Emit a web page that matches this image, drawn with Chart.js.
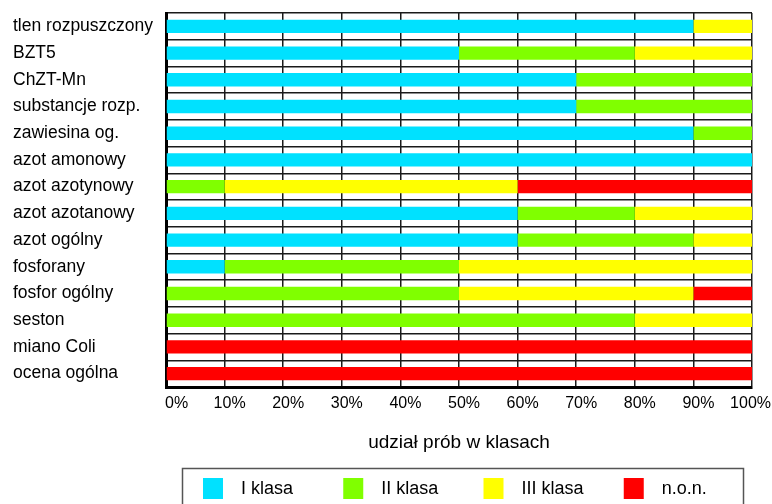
<!DOCTYPE html>
<html>
<head>
<meta charset="utf-8">
<script src="https://cdn.jsdelivr.net/npm/chart.js@4/dist/chart.umd.min.js"></script>
<style>
  html, body { margin: 0; padding: 0; background: #fff; }
  #wrap { width: 772px; height: 504px; }
</style>
</head>
<body>
<div id="wrap"><canvas id="c" width="772" height="504"></canvas></div>
<script>
// Categories (water quality indicators), top to bottom
const categories = [
  'tlen rozpuszczony', 'BZT5', 'ChZT-Mn', 'substancje rozp.', 'zawiesina og.',
  'azot amonowy', 'azot azotynowy', 'azot azotanowy', 'azot ogólny', 'fosforany',
  'fosfor ogólny', 'seston', 'miano Coli', 'ocena ogólna'
];

// Share of samples in each class (%)
const klasaI   = [90, 50, 70, 70, 90, 100,  0, 60, 60, 10,  0,  0,   0,   0];
const klasaII  = [ 0, 30, 30, 30, 10,   0, 10, 20, 30, 40, 50, 80,   0,   0];
const klasaIII = [10, 20,  0,  0,  0,   0, 50, 20, 10, 50, 40, 20,   0,   0];
const klasaNon = [ 0,  0,  0,  0,  0,   0, 40,  0,  0,  0, 10,  0, 100, 100];

const seriesNames  = ['I klasa', 'II klasa', 'III klasa', 'n.o.n.'];
const seriesColors = ['#00E1FF', '#80FF00', '#FFFF00', '#FF0000'];

const xTickLabels = ['0%', '10%', '20%', '30%', '40%', '50%', '60%', '70%', '80%', '90%', '100%'];
const xAxisTitle = 'udział prób w klasach';

const FONT = '"Liberation Sans", Arial, Helvetica, sans-serif';

// Percentage tick labels under the plot, nudged right and kept inside the canvas
const xLabelsPlugin = {
  id: 'xLabels',
  afterDraw(chart) {
    const sc = chart.scales.x;
    const ctx = chart.ctx;
    ctx.save();
    ctx.font = '16px ' + FONT;
    ctx.fillStyle = '#000';
    ctx.textBaseline = 'middle';
    ctx.textAlign = 'left';
    sc.ticks.forEach((t, i) => {
      const w = ctx.measureText(t.label).width;
      let x = sc.getPixelForTick(i) + 5 - w / 2;
      x = Math.max(x, chart.chartArea.left - 1);
      x = Math.min(x, chart.width - 1 - w);
      ctx.fillText(t.label, x, chart.chartArea.bottom + 17);
    });
    ctx.restore();
  }
};

// Framed legend with four evenly spaced entries below the axis title
const framedLegendPlugin = {
  id: 'framedLegend',
  afterDraw(chart) {
    const ctx = chart.ctx;
    const ca = chart.chartArea;
    const boxL = ca.left + 16, boxR = ca.right - 9, boxT = ca.bottom + 81;
    const pitch = (boxR - boxL) / chart.data.datasets.length;
    ctx.save();
    ctx.strokeStyle = '#555';
    ctx.lineWidth = 1.5;
    ctx.strokeRect(boxL + 0.5, boxT + 0.5, boxR - boxL, 60);
    ctx.font = '18px ' + FONT;
    ctx.textBaseline = 'middle';
    ctx.textAlign = 'left';
    chart.data.datasets.forEach((ds, i) => {
      const sx = boxL + 21 + i * pitch;
      ctx.fillStyle = ds.backgroundColor;
      ctx.fillRect(sx, boxT + 10, 20, 21);
      ctx.fillStyle = '#000';
      ctx.fillText(ds.label, sx + 38, boxT + 21);
    });
    ctx.restore();
  }
};

const seriesData = [klasaI, klasaII, klasaIII, klasaNon];

new Chart(document.getElementById('c'), {
  type: 'bar',
  data: {
    labels: categories,
    datasets: seriesData.map((d, i) => ({
      label: seriesNames[i],
      data: d,
      backgroundColor: seriesColors[i],
      borderWidth: 0,
      barPercentage: 0.5,
      categoryPercentage: 1.0
    }))
  },
  options: {
    indexAxis: 'y',
    responsive: false,
    animation: false,
    devicePixelRatio: 1,
    layout: { padding: { left: 13, top: 13, right: 20, bottom: 0 } },
    plugins: {
      legend: { display: false },
      tooltip: { enabled: false },
      title: { display: false }
    },
    scales: {
      x: {
        stacked: true,
        min: 0,
        max: 100,
        ticks: {
          stepSize: 10,
          display: false,
          callback: (v, i) => xTickLabels[i]
        },
        grid: { color: '#1a1a1a', lineWidth: 1.5, drawTicks: false },
        border: { display: true, color: '#000', width: 3 },
        title: {
          display: true,
          text: xAxisTitle,
          color: '#000',
          font: { family: FONT, size: 19 },
          padding: { top: 0, bottom: 49.6 }
        },
        afterFit(scale) {
          scale.height = 117;
          scale.paddingLeft = 0;
          scale.paddingRight = 0;
        }
      },
      y: {
        stacked: true,
        ticks: {
          color: '#000',
          font: { family: FONT, size: 17.5 },
          crossAlign: 'far',
          padding: 0
        },
        grid: { color: '#1a1a1a', lineWidth: 1.5, drawTicks: false, offset: true },
        border: { display: true, color: '#000', width: 3 },
        afterFit(scale) {
          scale.width = 153;
          scale.paddingTop = 0;
          scale.paddingBottom = 0;
        }
      }
    }
  },
  plugins: [xLabelsPlugin, framedLegendPlugin]
});
</script>
</body>
</html>
